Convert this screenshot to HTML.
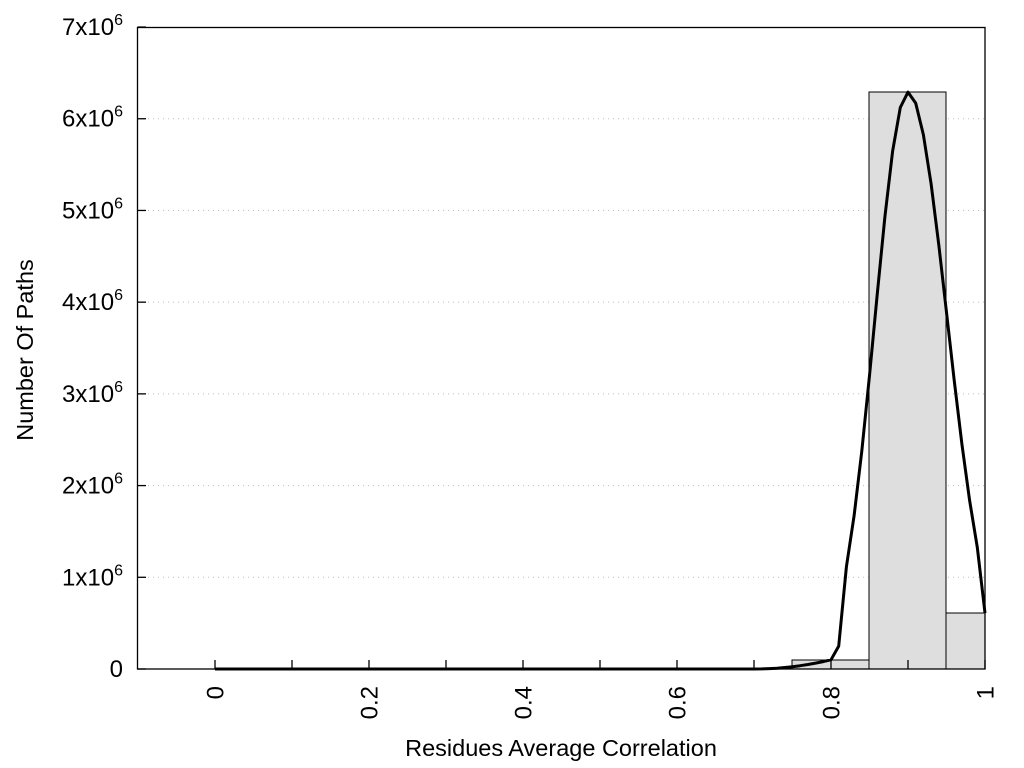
<!DOCTYPE html>
<html><head><meta charset="utf-8"><style>
html,body{margin:0;padding:0;background:#fff;}
svg{display:block;font-family:"Liberation Sans",Arial,sans-serif;}
</style></head><body>
<svg id="s" width="1024" height="768" viewBox="0 0 1024 768">
<g id="grid" stroke="#bbb" stroke-width="1" stroke-dasharray="1,4"></g>
<rect x="792" y="660" width="77" height="9" fill="#dedede" stroke="#000" stroke-width="1"/>
<rect x="869" y="92" width="77" height="577" fill="#dedede" stroke="#000" stroke-width="1"/>
<rect x="946" y="613" width="39" height="56" fill="#dedede" stroke="#000" stroke-width="1"/>
<path id="curve" fill="none" stroke="#000" stroke-width="3" stroke-linejoin="round"/>
<rect x="137.5" y="27.5" width="847.5" height="641.5" fill="none" stroke="#000" stroke-width="1.3"/>
<g id="ticks" stroke="#000" stroke-width="1.3"></g>
<g id="ylab" font-size="24" text-anchor="end" fill="#000"></g>
<g id="xlab" font-size="24" fill="#000"></g>
<text x="561" y="756" font-size="23.5" text-anchor="middle">Residues Average Correlation</text>
<text transform="translate(33,350) rotate(-90)" font-size="23.5" text-anchor="middle">Number Of Paths</text>
</svg>
<script>
var NS="http://www.w3.org/2000/svg";
function el(p,t,a,txt){var e=document.createElementNS(NS,t);for(var k in a)e.setAttribute(k,a[k]);if(txt!=null)e.textContent=txt;document.getElementById(p).appendChild(e);return e;}
function X(v){return 215+v*770;}
function Y(v){return 669-v*91.71;}
for(var i=1;i<=6;i++){el("grid","line",{x1:138,x2:985,y1:Y(i),y2:Y(i)});}
for(var i=0;i<=7;i++){
 var y=Y(i);
 el("ticks","line",{x1:137.5,x2:146,y1:y,y2:y});
 var t=el("ylab","text",{x:123,y:y+8});
 if(i==0){t.textContent="0";}else{t.textContent=i+"x10";var ts=document.createElementNS(NS,"tspan");ts.setAttribute("dy","-10");ts.setAttribute("font-size","16");ts.textContent="6";t.appendChild(ts);}
}
for(var i=0;i<=10;i++){var x=X(i/10);el("ticks","line",{x1:x,x2:x,y1:669,y2:660});}
var labs=["0","0.2","0.4","0.6","0.8","1"];
for(var i=0;i<6;i++){var x=X(i*0.2);el("xlab","text",{transform:"translate("+(x+8.5)+",686) rotate(-90)","text-anchor":"end"},labs[i]);}
var pts=[];
for(var v=0;v<=1.0001;v+=0.01){
 var f;
 if(v<=0.7)f=0;
 else if(v<=0.8){var r=(v-0.7)/0.1;f=0.1*r*r;}
 else if(v<=0.9){var s=(v<0.81)?0.035:0.043;f=6.29*Math.exp(-Math.pow(v-0.9,2)/(2*s*s));if(v<0.805)f=0.1;else if(v<0.815)f=0.25;}
 else{f=6.29*Math.exp(-Math.pow(v-0.9,2)/(2*0.051*0.051));if(v>0.995)f=0.61;}
 pts.push(X(v).toFixed(1)+","+Y(f).toFixed(1));
}
document.getElementById("curve").setAttribute("d","M"+pts.join(" L"));
</script>
</body></html>
